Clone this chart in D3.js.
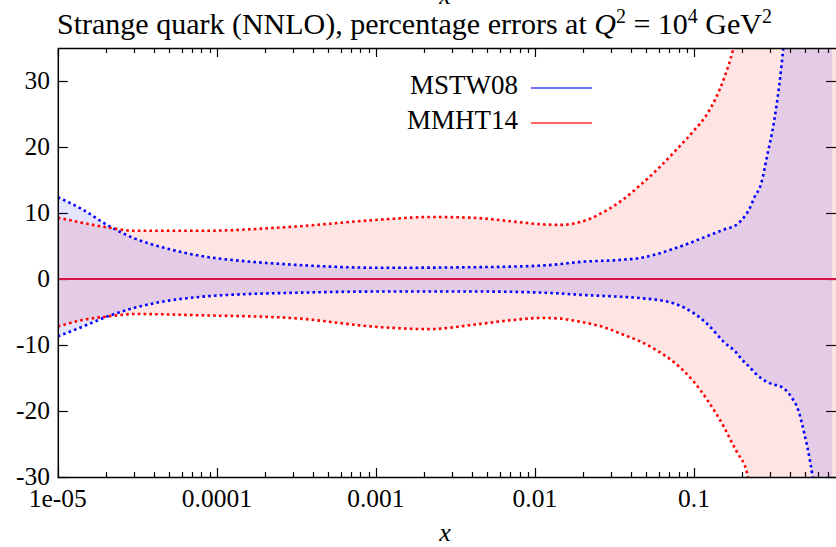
<!DOCTYPE html>
<html>
<head>
<meta charset="utf-8">
<script src="https://cdn.jsdelivr.net/npm/d3@7"></script>
<style>
  html, body { margin: 0; padding: 0; background: #fff; }
  svg { display: block; }
  text { font-family: "Liberation Serif", "DejaVu Serif", serif; fill: #000; }
</style>
</head>
<body>
<script>
// ---------- data ----------
const seriesNames = ["MSTW08", "MMHT14"];

const mstwX  = [1e-5, 1.44e-5, 2.04e-5, 3e-5, 4.4e-5, 7.9e-5, 1.5e-4, 2.9e-4, 1.07e-3, 4.6e-3, 0.0121, 0.0194, 0.0347, 0.0463, 0.0748, 0.1, 0.121, 0.155, 0.187, 0.197, 0.229, 0.239, 0.264, 0.288, 0.319, 0.343, 0.368, 0.41, 0.453, 0.496, 0.535, 0.553, 0.6, 0.74];
const mstwUp = [12.4, 10.5, 8.2, 6.2, 4.9, 3.5, 2.7, 2.2, 1.7, 1.8, 2.1, 2.6, 2.9, 3.2, 4.6, 5.7, 6.5, 7.5, 8.3, 8.8, 11.2, 12.3, 14.4, 18.6, 23.9, 29.2, 36, 50, 60, 70, 80, 90, 100, 120];
const mstwLo = [-8.7, -7.2, -5.7, -4.4, -3.5, -2.7, -2.3, -2.1, -1.9, -1.9, -2.1, -2.4, -2.7, -2.9, -3.7, -5.2, -6.8, -9.6, -11.3, -12.0, -13.6, -14.1, -15.0, -15.6, -16.0, -16.2, -16.6, -17.9, -19.9, -23.6, -27.4, -29.5, -40, -60];

const mmhtX  = [1e-5, 1.44e-5, 2.2e-5, 3e-5, 7.9e-5, 2.9e-4, 1.07e-3, 2.2e-3, 3.9e-3, 7.4e-3, 0.0109, 0.0145, 0.0175, 0.0215, 0.0287, 0.0347, 0.0463, 0.06, 0.0748, 0.1, 0.121, 0.155, 0.175, 0.187, 0.216, 0.25, 0.8];
const mmhtUp = [9.3, 8.5, 7.7, 7.3, 7.3, 7.9, 9.0, 9.4, 9.3, 8.7, 8.3, 8.2, 8.4, 9.0, 10.5, 11.8, 14.3, 16.8, 19.2, 22.5, 25.0, 30.5, 34.5, 37.5, 45, 55, 120];
const mmhtLo = [-7.2, -6.2, -5.6, -5.3, -5.5, -5.9, -7.3, -7.6, -7.0, -6.2, -5.9, -6.0, -6.3, -6.7, -7.5, -8.3, -9.5, -11.0, -12.6, -15.6, -18.3, -22.5, -25.0, -26.3, -29.5, -40, -120];

const xTickValues = [1e-5, 1e-4, 1e-3, 1e-2, 1e-1];
const xTickLabels = ["1e-05", "0.0001", "0.001", "0.01", "0.1"];
const yTickValues = [-30, -20, -10, 0, 10, 20, 30];
const yTickLabels = ["-30", "-20", "-10", "0", "10", "20", "30"];

// ---------- layout ----------
const W = 836, H = 547;
const plot = { left: 57.8, right: 837.6, top: 48, bottom: 477 };

const svg = d3.select("body").append("svg").attr("width", W).attr("height", H);

const x = d3.scaleLog().domain([1e-5, 0.8]).range([plot.left, plot.right]);
const y = d3.scaleLinear().domain([-30, 35]).range([plot.bottom, plot.top]);

svg.append("defs").append("clipPath").attr("id", "clip")
  .append("rect").attr("x", plot.left).attr("y", plot.top)
  .attr("width", plot.right - plot.left).attr("height", plot.bottom - plot.top);

// ticks (drawn under the fills)
const tickG = svg.append("g").attr("stroke", "#000").attr("stroke-width", 1.2);
const minor = [];
for (let e = -5; e <= -1; e++) for (let m = 2; m <= 9; m++) {
  const v = m * Math.pow(10, e);
  if (v <= 0.8) minor.push(v);
}
xTickValues.forEach(v => {
  const px = Math.round(x(v)) + 0.5;
  tickG.append("line").attr("x1", px).attr("x2", px).attr("y1", plot.bottom).attr("y2", plot.bottom - 9);
  tickG.append("line").attr("x1", px).attr("x2", px).attr("y1", plot.top).attr("y2", plot.top + 9);
});
minor.forEach(v => {
  const px = Math.round(x(v)) + 0.5;
  tickG.append("line").attr("x1", px).attr("x2", px).attr("y1", plot.bottom).attr("y2", plot.bottom - 5);
  tickG.append("line").attr("x1", px).attr("x2", px).attr("y1", plot.top).attr("y2", plot.top + 5);
});
yTickValues.forEach(v => {
  const py = Math.round(y(v)) + 0.5;
  tickG.append("line").attr("x1", plot.left).attr("x2", plot.left + 10).attr("y1", py).attr("y2", py);
  tickG.append("line").attr("x1", W).attr("x2", W - 10).attr("y1", py).attr("y2", py);
});

// bands
const g = svg.append("g").attr("clip-path", "url(#clip)");
function band(xs, up, lo) { return xs.map((v, i) => ({ x: v, up: up[i], lo: lo[i] })); }
const mstw = band(mstwX, mstwUp, mstwLo);
const mmht = band(mmhtX, mmhtUp, mmhtLo);
const curve = d3.curveMonotoneX;

const area = d3.area().curve(curve).x(d => x(d.x)).y0(d => y(d.lo)).y1(d => y(d.up));
g.append("path").datum(mmht).attr("d", area).attr("fill", "rgb(255,0,0)").attr("fill-opacity", 0.105);
g.append("path").datum(mstw).attr("d", area).attr("fill", "rgb(0,0,255)").attr("fill-opacity", 0.105);

// central line (both series coincide at zero)
g.append("line").attr("x1", plot.left).attr("x2", W).attr("y1", y(0)).attr("y2", y(0))
  .attr("stroke", "#d8133f").attr("stroke-width", 2);

// dotted bound lines
const lineUp = d3.line().curve(curve).x(d => x(d.x)).y(d => y(d.up));
const lineLo = d3.line().curve(curve).x(d => x(d.x)).y(d => y(d.lo));
[[mstw, "#0000ff"], [mmht, "#ff0000"]].forEach(([data, col]) => {
  [lineUp, lineLo].forEach(fn => {
    g.append("path").datum(data).attr("d", fn).attr("fill", "none")
      .attr("stroke", col).attr("stroke-width", 2.6).attr("stroke-dasharray", "2.6,3.2");
  });
});

// border (left, bottom, top)
svg.append("path")
  .attr("d", `M${W},${plot.top + 0.5}H${plot.left + 0.5}V${plot.bottom + 0.5}H${W}`)
  .attr("fill", "none").attr("stroke", "#000").attr("stroke-width", 1.5);

// tick labels
const fs = 25.5;
xTickValues.forEach((v, i) => {
  svg.append("text").attr("x", x(v)).attr("y", 507).attr("text-anchor", "middle")
    .attr("font-size", fs).text(xTickLabels[i]);
});
yTickValues.forEach((v, i) => {
  svg.append("text").attr("x", 50).attr("y", y(v) + 8).attr("text-anchor", "end")
    .attr("font-size", fs).text(yTickLabels[i]);
});

// axis labels
svg.append("text").attr("x", 445).attr("y", 541).attr("text-anchor", "middle")
  .attr("font-size", 26).attr("font-style", "italic").text("x");
svg.append("text").attr("x", 445).attr("y", 4).attr("text-anchor", "middle")
  .attr("font-size", 26).attr("font-style", "italic").text("x");

// title
const t = svg.append("text").attr("x", 57).attr("y", 34).attr("font-size", 30);
t.append("tspan").text("Strange quark (NNLO), percentage errors at ");
t.append("tspan").attr("font-style", "italic").text("Q");
t.append("tspan").attr("font-size", 20).attr("dy", -11).text("2");
t.append("tspan").attr("dy", 11).text(" = 10");
t.append("tspan").attr("font-size", 20).attr("dy", -11).text("4");
t.append("tspan").attr("dy", 11).text(" GeV");
t.append("tspan").attr("font-size", 20).attr("dy", -11).text("2");

// legend
const legend = [
  { name: seriesNames[0], color: "#4040ff", y: 88 },
  { name: seriesNames[1], color: "#ff3030", y: 123 }
];
legend.forEach(l => {
  svg.append("text").attr("x", 518).attr("y", l.y + 6).attr("text-anchor", "end")
    .attr("font-size", 27).text(l.name);
  svg.append("line").attr("x1", 531).attr("x2", 592).attr("y1", l.y).attr("y2", l.y)
    .attr("stroke", l.color).attr("stroke-width", 1.6);
});
</script>
</body>
</html>
